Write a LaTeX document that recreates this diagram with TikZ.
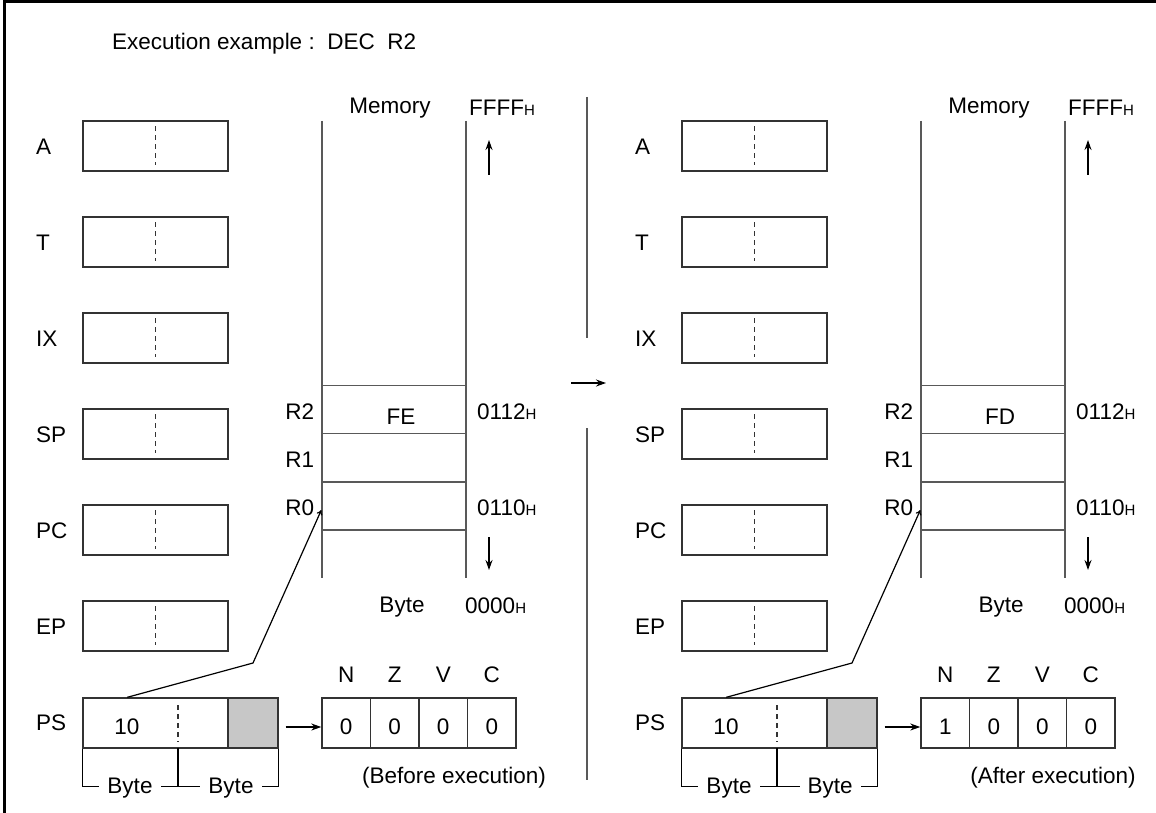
\documentclass[tikz,border=0pt]{standalone}
\usepackage{fontspec}
\setmainfont{Liberation Sans}
\usetikzlibrary{arrows.meta, positioning, calc}

\newcommand{\hexaddr}[1]{#1{\fontsize{15}{15}\selectfont H}}

\begin{document}
\begin{tikzpicture}[
    x=1pt, y=-1pt,
    >={Stealth[length=10pt,width=7pt]},
    font=\fontsize{22.5}{26}\selectfont,
    regbox/.style={draw=black!80, line width=1.4pt, minimum width=145pt,
                   minimum height=50pt, inner sep=0pt},
    reglabel/.style={anchor=west, inner sep=0pt},
    plain/.style={inner sep=0pt},
    halfline/.style={draw=black!80, dash pattern=on 5pt off 4pt, line width=1.2pt},
    memline/.style={draw=black!65, line width=1.5pt},
    memcell/.style={draw=black!65, line width=1.3pt, minimum width=144pt,
                    minimum height=48pt, inner sep=0pt},
    flagcell/.style={draw=black!80, line width=1.4pt, minimum width=48.5pt,
                     minimum height=50pt, inner sep=0pt},
    link/.style={->, line width=1.2pt},
    pointer/.style={-{To[length=5pt,width=6pt]}, line width=1.2pt},
    frame/.style={line width=3pt},
]

\useasboundingbox (0,0) rectangle (1156,813);
\draw[frame] (4.5,813) -- (4.5,1.5) -- (1156,1.5);

\node[plain, anchor=west] (title) at (112,44) {Execution example :\ \ DEC\ \ R2};

% before / after halves
\foreach \dx/\sd/\rtwo/\nval/\when in {0/b/FE/0/Before, 599/a/FD/1/After} {
\begin{scope}[xshift=\dx pt]
    % registers
    \foreach \reg [count=\i from 0] in {A,T,IX,SP,PC,EP} {
        \node[regbox] (\sd-\reg) at (155.5,{146+96*\i}) {};
        \node[reglabel] (\sd-\reg-lbl) at (36,{147+96*\i}) {\reg};
        \draw[halfline] ([yshift=-6pt]\sd-\reg.north) -- ([yshift=7pt]\sd-\reg.south);
    }

    % PS register and byte bracket
    \node[regbox, minimum width=195pt] (\sd-ps) at (180.5,723) {};
    \node[regbox, minimum width=50pt, fill=black!22] (\sd-pslow) at (253,723) {};
    \node[reglabel] (\sd-ps-lbl) at (36,723) {PS};
    \node[plain] (\sd-psval) at (127,727) {10};
    \draw[halfline] (178,705) -- (178,742);
    \draw[line width=1.2pt] (\sd-ps.south west) -- ++(0,38) -| (\sd-ps.south east);
    \draw[line width=1.2pt] (178,748) -- (178,786);
    \node[plain, fill=white, inner xsep=8pt] (\sd-byteh) at (130,788) {Byte};
    \node[plain, fill=white, inner xsep=8pt] (\sd-bytel) at (231,788) {Byte};

    % condition flags
    \foreach \fl/\v [count=\j from 0] in {N/\nval,Z/0,V/0,C/0} {
        \node[flagcell] (\sd-f\fl) at ({346.25+48.5*\j},723) {};
        \node[plain] (\sd-v\fl) at ([yshift=-4pt]\sd-f\fl.center) {\v};
        \node[plain] (\sd-l\fl) at ({346.25+48.5*\j},675) {\fl};
    }
    \node[plain] (\sd-when) at (454,778) {(\when\ execution)};
    \draw[link] ([xshift=7pt,yshift=-4pt]\sd-ps.east) -- ([yshift=-4pt]\sd-fN.west);

    % memory
    \draw[memline] (322,121) -- (322,578);
    \draw[memline] (466,121) -- (466,578);
    \foreach \r/\yc in {R2/409.5,R1/457.5,R0/506} {
        \node[memcell] (\sd-\r) at (394,\yc) {};
        \node[plain, anchor=east] (\sd-\r-lbl) at ([xshift=-7pt,yshift=-2pt]\sd-\r.west) {\r};
    }
    \node[plain] (\sd-data) at ([xshift=7pt,yshift=-7pt]\sd-R2.center) {\rtwo};
    \node[plain] (\sd-memtitle) at (390,108) {Memory};
    \node[plain, anchor=west] (\sd-top) at (469,108) {\hexaddr{FFFF}};
    \node[plain, anchor=west] (\sd-a112) at (477,412) {\hexaddr{0112}};
    \node[plain, anchor=west] (\sd-a110) at (477,508) {\hexaddr{0110}};
    \node[plain] (\sd-unit) at (402,607) {Byte};
    \node[plain, anchor=west] (\sd-bot) at (465,606) {\hexaddr{0000}};
    \coordinate (\sd-up0) at (489,175);
    \coordinate (\sd-up1) at (489,140);
    \coordinate (\sd-dn0) at (489,537);
    \coordinate (\sd-dn1) at (489,570);
    \draw[link] (\sd-up0) -- (\sd-up1);
    \draw[link] (\sd-dn0) -- (\sd-dn1);

    % PS points at R0
    \coordinate (\sd-kink) at (253,663);
    \draw[pointer] ([xshift=45pt]\sd-ps.north west) -- (\sd-kink)
                   -- ([yshift=-4pt]\sd-R0.west);
\end{scope}
}

% separator between the halves
\coordinate (sep0) at (587,97);
\coordinate (sep1) at (587,338);
\coordinate (sep2) at (587,428);
\coordinate (sep3) at (587,780);
\coordinate (go0) at (571,383);
\coordinate (go1) at (606,383);
\draw[memline] (sep0) -- (sep1);
\draw[memline] (sep2) -- (sep3);
\draw[link] (go0) -- (go1);

\end{tikzpicture}
\end{document}
